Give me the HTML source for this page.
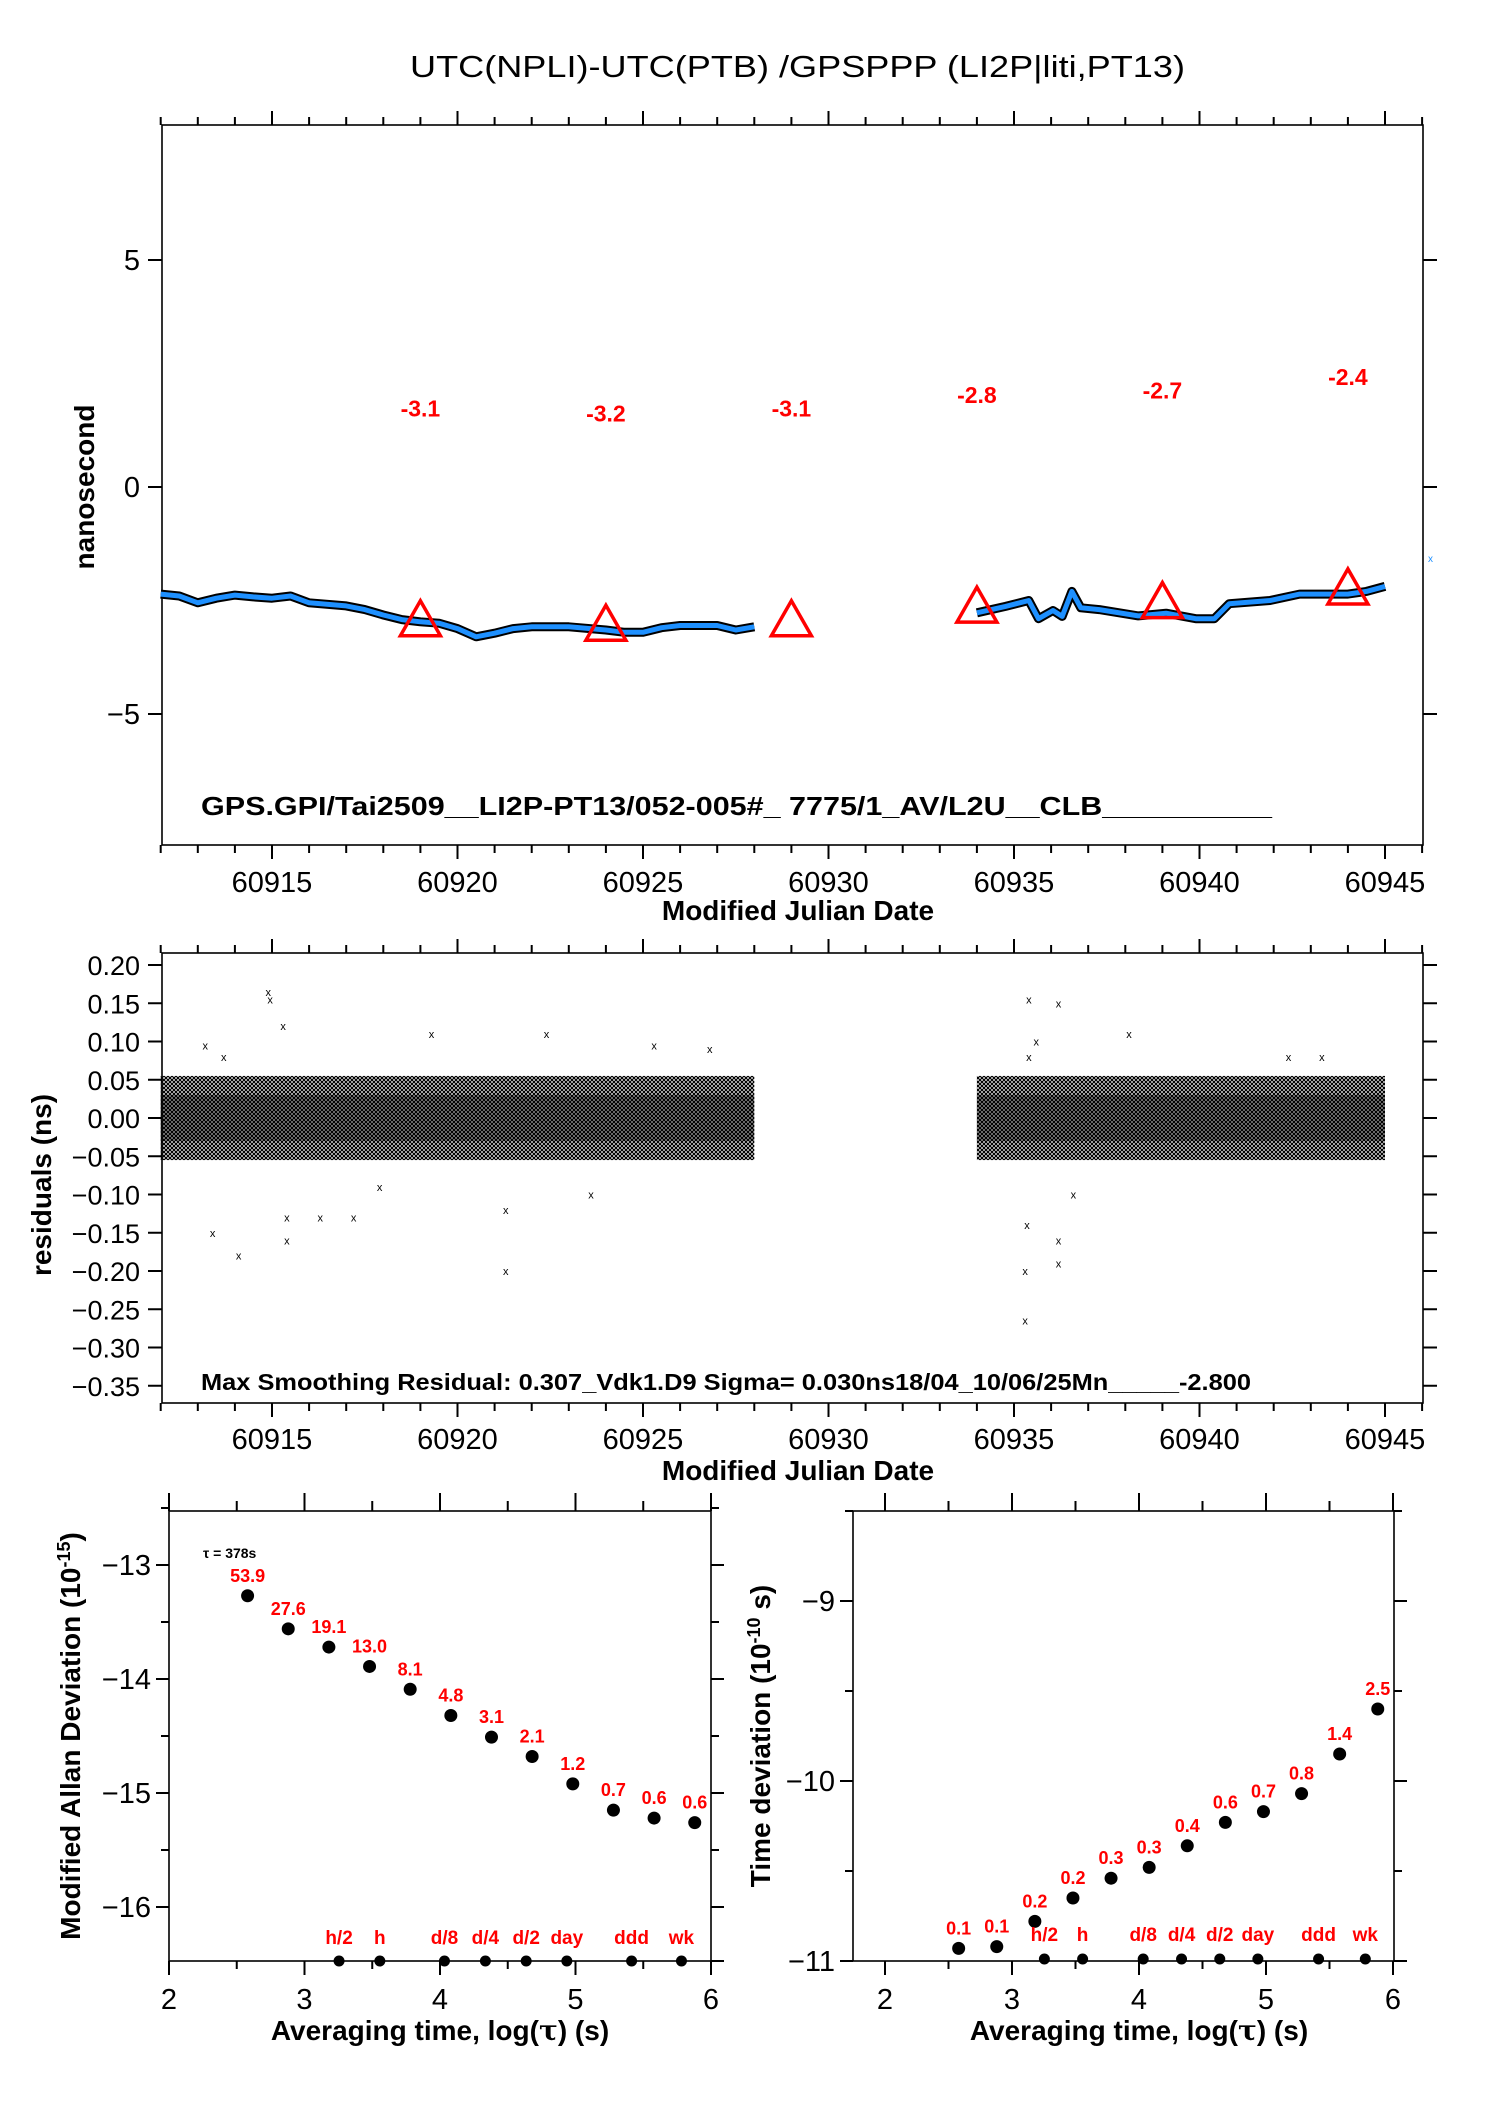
<!DOCTYPE html>
<html><head><meta charset="utf-8"><style>
html,body{margin:0;padding:0;background:#fff;}
svg{display:block;}
text{font-family:"Liberation Sans",sans-serif;}
</style></head><body>
<svg id="chart" xmlns="http://www.w3.org/2000/svg" width="1488" height="2105" viewBox="0 0 1488 2105">
<defs>
<pattern id="xpat" width="4" height="4" patternUnits="userSpaceOnUse">
<rect width="4" height="4" fill="#fff"/>
<path d="M0 0L4 4M4 0L0 4" stroke="#000" stroke-width="1.2"/>
</pattern>
</defs>
<text x="410" y="77" font-size="31" textLength="775" lengthAdjust="spacingAndGlyphs">UTC(NPLI)-UTC(PTB)  /GPSPPP  (LI2P|liti,PT13)</text>
<g id="g1"></g>
<g id="g2"></g>
<g id="g3"></g>
<g id="g4"></g>
</svg>
<script>
// ---- panel 1 data ----
const seg1Days = [60912,60912.5,60913,60913.5,60914,60914.5,60915,60915.5,60916,60917,60917.5,60918,60918.5,60919,60919.5,60920,60920.5,60921,60921.5,60922,60923,60924,60924.5,60925,60925.5,60926,60927,60927.5,60928];
const seg1Vals = [-2.36,-2.4,-2.55,-2.45,-2.38,-2.42,-2.45,-2.4,-2.55,-2.62,-2.7,-2.82,-2.92,-2.97,-3.0,-3.12,-3.3,-3.22,-3.12,-3.08,-3.08,-3.15,-3.2,-3.2,-3.1,-3.05,-3.05,-3.15,-3.08];
const seg2Days = [60934.0,60934.77,60935.4,60935.66,60936.05,60936.3,60936.56,60936.8,60937.3,60938.35,60939.1,60939.9,60940.4,60940.8,60941.9,60942.7,60944.0,60944.5,60945.0];
const seg2Vals = [-2.77,-2.63,-2.5,-2.9,-2.72,-2.85,-2.3,-2.66,-2.7,-2.84,-2.78,-2.9,-2.9,-2.57,-2.5,-2.36,-2.36,-2.3,-2.19];
const triDays = [60919,60924,60929,60934,60939,60944];
const triVals = [-3.1,-3.2,-3.1,-2.8,-2.7,-2.4];
const triLabels = ["-3.1","-3.2","-3.1","-2.8","-2.7","-2.4"];
const mjdTicks = [60915,60920,60925,60930,60935,60940,60945];
const nsTicks = [5,0,-5];
// ---- panel 2 data ----
const bandDays1 = [60912,60928];
const bandDays2 = [60934,60945];
const bandUpper = 0.055;
const bandLower = -0.055;
const outDays = [60914.9,60914.95,60913.2,60913.4,60914.1,60915.4,60915.4,60916.3,60917.2,60919.3,60921.3,60921.3,60922.4,60925.3,60935.4,60935.4,60935.3,60935.3,60935.35,60936.2,60936.2,60936.2,60938.1,60942.4,60913.7,60915.3,60917.9,60923.6,60926.8,60935.6,60936.6,60943.3];
const outVals = [0.165,0.155,0.095,-0.15,-0.18,-0.13,-0.16,-0.13,-0.13,0.11,-0.2,-0.12,0.11,0.095,0.155,0.08,-0.265,-0.2,-0.14,0.15,-0.16,-0.19,0.11,0.08,0.08,0.12,-0.09,-0.1,0.09,0.1,-0.1,0.08];
const resTicks = [0.20,0.15,0.10,0.05,0.00,-0.05,-0.10,-0.15,-0.20,-0.25,-0.30,-0.35];
// ---- panel 3 data ----
const logTau = [2.58,2.88,3.18,3.48,3.78,4.08,4.38,4.68,4.98,5.28,5.58,5.88];
const mdevLabels = ["53.9","27.6","19.1","13.0","8.1","4.8","3.1","2.1","1.2","0.7","0.6","0.6"];
const mdevVals = [-13.27,-13.56,-13.72,-13.89,-14.09,-14.32,-14.51,-14.68,-14.92,-15.15,-15.22,-15.26];
const markLabels = ["h/2","h","d/8","d/4","d/2","day","ddd","wk"];
const markLog = [3.255,3.556,4.033,4.335,4.636,4.936,5.414,5.782];
const mdevTicks = [-13,-14,-15,-16];
// ---- panel 4 data ----
const tdevLabels = ["0.1","0.1","0.2","0.2","0.3","0.3","0.4","0.6","0.7","0.8","1.4","2.5"];
const tdevVals = [-10.93,-10.92,-10.78,-10.65,-10.54,-10.48,-10.36,-10.23,-10.17,-10.07,-9.85,-9.6];
const tdevTicks = [-9,-10,-11];
const logTicks = [2,3,4,5,6];

const NS="http://www.w3.org/2000/svg";
function mk(parent,tag,attrs,txt){const e=document.createElementNS(NS,tag);for(const k in attrs)e.setAttribute(k,attrs[k]);if(txt!==undefined)e.textContent=txt;parent.appendChild(e);return e;}
function lin(d0,d1,p0,p1){return v=>p0+(v-d0)*(p1-p0)/(d1-d0);}

// ===== Panel 1 =====
(function(){
const g=document.getElementById('g1');
const L=162,R=1423,T=125,B=845;
const x=lin(60915,60945,272,1385), y=lin(0,5,487,260);
mk(g,'rect',{x:L,y:T,width:R-L,height:B-T,fill:'none',stroke:'#000','stroke-width':1.6,});
for(let d=60912;d<=60946;d++){const xx=x(d);const maj=d%5===0;
 mk(g,'line',{x1:xx,y1:T,x2:xx,y2:T-(maj?14:8),stroke:'#000','stroke-width':2,});
 mk(g,'line',{x1:xx,y1:B,x2:xx,y2:B+(maj?14:8),stroke:'#000','stroke-width':2,});}
mjdTicks.forEach(t=>{const e=mk(g,'text',{x:x(t),y:892,'font-size':29,'text-anchor':'middle'},String(t));});
nsTicks.forEach(t=>{const yy=y(t);
 mk(g,'line',{x1:L-14,y1:yy,x2:L,y2:yy,stroke:'#000','stroke-width':2,});
 mk(g,'line',{x1:R,y1:yy,x2:R+14,y2:yy,stroke:'#000','stroke-width':2,});
 const e=mk(g,'text',{x:L-22,y:yy+10,'font-size':29,'text-anchor':'end'},t<0?'\u2212'+(-t):String(t));});
mk(g,'text',{x:798,y:920,'font-size':28,'font-weight':'bold','text-anchor':'middle',},'Modified Julian Date');
mk(g,'text',{x:0,y:0,'font-size':28,'font-weight':'bold','text-anchor':'middle',transform:'translate(94,487) rotate(-90)',},'nanosecond');
[[seg1Days,seg1Vals],[seg2Days,seg2Vals]].forEach(([ds,vs],i)=>{
 const pts=ds.map((d,k)=>x(d).toFixed(1)+','+y(vs[k]).toFixed(1)).join(' ');
 mk(g,'polyline',{points:pts,fill:'none',stroke:'#000','stroke-width':9,'stroke-linejoin':'round',});
 mk(g,'polyline',{points:pts,fill:'none',stroke:'#1e90ff','stroke-width':5,'stroke-linejoin':'round',});
});
triDays.forEach((d,i)=>{const xx=x(d),yy=y(triVals[i]);
 const p=mk(g,'polygon',{points:`${xx-20},${yy+8} ${xx+20},${yy+8} ${xx},${yy-27}`,fill:'none',stroke:'#f00','stroke-width':3.5});
 
 const t=mk(g,'text',{x:xx,y:yy-211,'font-size':23,'font-weight':'bold',fill:'#f00','text-anchor':'middle'},triLabels[i]);
 });
mk(g,'text',{x:1428,y:562,'font-size':10,fill:'#1e90ff',},'x');
mk(g,'text',{x:201,y:815,'font-size':26,'font-weight':'bold',textLength:1071,lengthAdjust:'spacingAndGlyphs',},'GPS.GPI/Tai2509__LI2P-PT13/052-005#_  7775/1_AV/L2U__CLB__________');
})();

// ===== Panel 2 =====
(function(){
const g=document.getElementById('g2');
const L=162,R=1423,T=953,B=1403;
const x=lin(60915,60945,272,1385), y=lin(0,0.2,1118,965);
[bandDays1,bandDays2].forEach((bd,i)=>{
 mk(g,'rect',{x:x(bd[0]),y:y(bandUpper),width:x(bd[1])-x(bd[0]),height:y(bandLower)-y(bandUpper),fill:'url(#xpat)',});
 mk(g,'rect',{x:x(bd[0]),y:y(0.03),width:x(bd[1])-x(bd[0]),height:y(-0.03)-y(0.03),fill:'#000',opacity:0.35,});
});
outDays.forEach((d,i)=>{const t=mk(g,'text',{x:x(d),y:y(outVals[i])+4,'font-size':11,'text-anchor':'middle'},'x');});
mk(g,'rect',{x:L,y:T,width:R-L,height:B-T,fill:'none',stroke:'#000','stroke-width':1.6,});
for(let d=60912;d<=60946;d++){const xx=x(d);const maj=d%5===0;
 mk(g,'line',{x1:xx,y1:T,x2:xx,y2:T-(maj?14:8),stroke:'#000','stroke-width':2,});
 mk(g,'line',{x1:xx,y1:B,x2:xx,y2:B+(maj?14:8),stroke:'#000','stroke-width':2,});}
mjdTicks.forEach(t=>{const e=mk(g,'text',{x:x(t),y:1449,'font-size':29,'text-anchor':'middle'},String(t));});
resTicks.forEach(t=>{const yy=y(t);
 mk(g,'line',{x1:L-14,y1:yy,x2:L,y2:yy,stroke:'#000','stroke-width':2,});
 mk(g,'line',{x1:R,y1:yy,x2:R+14,y2:yy,stroke:'#000','stroke-width':2,});
 const s=(t<0?'\u2212':'')+Math.abs(t).toFixed(2);
 const e=mk(g,'text',{x:L-22,y:yy+10,'font-size':27,'text-anchor':'end'},s);});
mk(g,'text',{x:798,y:1480,'font-size':28,'font-weight':'bold','text-anchor':'middle',},'Modified Julian Date');
mk(g,'text',{x:0,y:0,'font-size':28,'font-weight':'bold','text-anchor':'middle',transform:'translate(51,1185) rotate(-90)',},'residuals (ns)');
mk(g,'text',{x:201,y:1390,'font-size':23,'font-weight':'bold',textLength:1050,lengthAdjust:'spacingAndGlyphs',},'Max Smoothing Residual: 0.307_Vdk1.D9  Sigma= 0.030ns18/04_10/06/25Mn_____-2.800');
})();

// ===== stability panels =====
function stab(gid,L,R,x,y,ticks,minorStep,vals,labels,yTitle,yTitleX,markY,markLabelY,showTau){
const g=document.getElementById(gid);
const T=1511,B=1961;
mk(g,'rect',{x:L,y:T,width:R-L,height:B-T,fill:'none',stroke:'#000','stroke-width':1.6,});
mk(g,'line',{x1:R,y1:B,x2:R+13,y2:B,stroke:'#000','stroke-width':2,});
for(let v=2;v<=6.001;v+=0.5){const xx=x(v);const maj=Math.abs(v-Math.round(v))<0.01;
 mk(g,'line',{x1:xx,y1:T,x2:xx,y2:T-(maj?18:10),stroke:'#000','stroke-width':2,});
 mk(g,'line',{x1:xx,y1:B,x2:xx,y2:B+(maj?14:8),stroke:'#000','stroke-width':2,});}
logTicks.forEach(t=>{const e=mk(g,'text',{x:x(t),y:2009,'font-size':29,'text-anchor':'middle'},String(t));});
ticks.forEach(t=>{const yy=y(t);
 mk(g,'line',{x1:L-13,y1:yy,x2:L,y2:yy,stroke:'#000','stroke-width':2,});
 mk(g,'line',{x1:R,y1:yy,x2:R+13,y2:yy,stroke:'#000','stroke-width':2,});
 mk(g,'line',{x1:L-8,y1:y(t+minorStep),x2:L,y2:y(t+minorStep),stroke:'#000','stroke-width':2,});
 mk(g,'line',{x1:R,y1:y(t+minorStep),x2:R+8,y2:y(t+minorStep),stroke:'#000','stroke-width':2,});
 const e=mk(g,'text',{x:L-18,y:yy+10,'font-size':29,'text-anchor':'end'},'\u2212'+(-t));});
const xt=mk(g,'text',{x:(x(2)+x(6))/2,y:2040,'font-size':28,'font-weight':'bold','text-anchor':'middle'});

xt.innerHTML='Averaging time, log(<tspan font-family="DejaVu Serif, serif">\u03c4</tspan>) (s)';
const yt=mk(g,'text',{x:0,y:0,'font-size':28,'font-weight':'bold','text-anchor':'middle',transform:`translate(${yTitleX},${(T+B)/2}) rotate(-90)`});

yt.innerHTML=yTitle;
logTau.forEach((lt,i)=>{const xx=x(lt),yy=y(vals[i]);
 const c=mk(g,'circle',{cx:xx,cy:yy,r:6.5,fill:'#000'});
 const t=mk(g,'text',{x:xx,y:yy-14,'font-size':18,'font-weight':'bold',fill:'#f00','text-anchor':'middle'},labels[i]);});
markLog.forEach((m,i)=>{const xx=x(m);
 const c=mk(g,'circle',{cx:xx,cy:markY,r:5.5,fill:'#000'});
 const t=mk(g,'text',{x:xx,y:markLabelY,'font-size':19,'font-weight':'bold',fill:'#f00','text-anchor':'middle'},markLabels[i]);});
if(showTau){mk(g,'text',{x:203,y:1558,'font-size':14,'font-weight':'bold',},'\u03c4 = 378s');}
}
stab('g3',169,711,lin(2,6,169,711),lin(-13,-14,1565,1679),mdevTicks,0.5,mdevVals,mdevLabels,
 'Modified Allan Deviation (10<tspan dy="-10" font-size="18">-15</tspan><tspan dy="10">)</tspan>',80,1961,1944,true);
stab('g4',853,1394,lin(2,6,885,1393),lin(-9,-10,1601,1781),tdevTicks,0.5,tdevVals,tdevLabels,
 'Time deviation (10<tspan dy="-10" font-size="18">-10</tspan><tspan dy="10"> s)</tspan>',770,1959,1941,false);
</script>
</body></html>
